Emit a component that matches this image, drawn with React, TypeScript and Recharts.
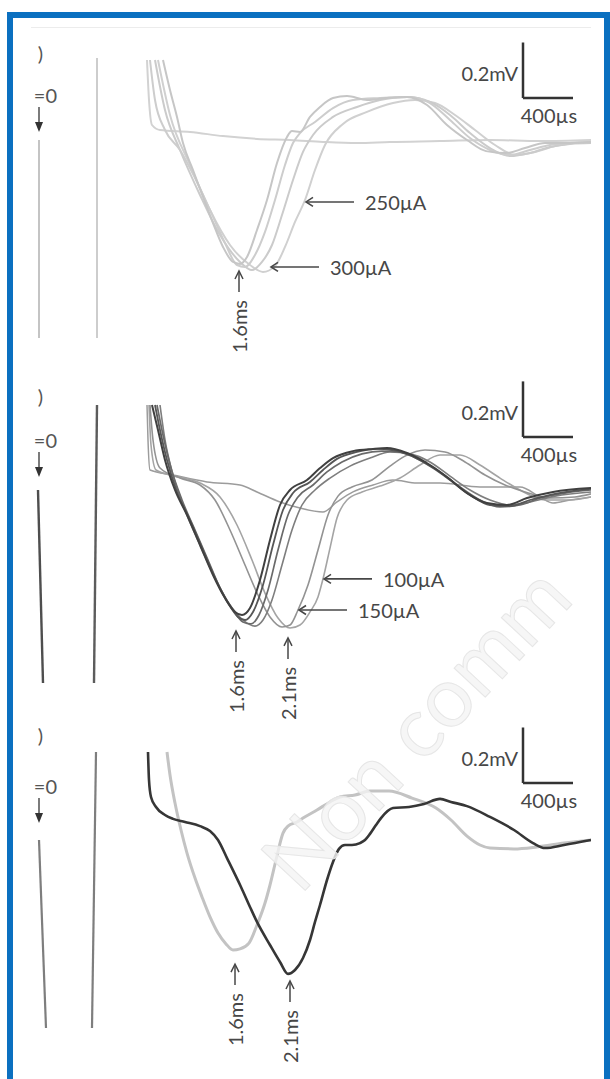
import React from 'react';
import { LineChart, Line, XAxis, YAxis, ReferenceLine, ReferenceDot } from 'recharts';

type Row = [number, number]; // [time ms, voltage mV]

// ---- panel a) : five sweeps, all light grey
const aFlat: Row[] = [
  [0.864, 0.288], [0.88, 0.144], [0.904, 0.054], [0.968, 0.036], [1.208, 0.029], [1.472, 0.014],
  [1.744, 0.004], [2.008, 0], [2.272, -0.007], [2.544, -0.011], [2.808, -0.007], [3.208, -0.004],
  [3.608, 0], [4.008, -0.004], [4.416, 0],
];
const aFast: Row[] = [
  [0.992, 0.288], [1.048, 0.18], [1.104, 0.083], [1.152, -0.011], [1.232, -0.108], [1.312, -0.205],
  [1.392, -0.299], [1.472, -0.385], [1.552, -0.439], [1.608, -0.446], [1.664, -0.421], [1.744, -0.324],
  [1.824, -0.216], [1.904, -0.083], [1.984, 0.011], [2.024, 0.032], [2.088, 0.029], [2.168, 0.083],
  [2.248, 0.119], [2.352, 0.151], [2.464, 0.158], [2.624, 0.144], [2.784, 0.151], [2.944, 0.155],
  [3.104, 0.126], [3.264, 0.054], [3.424, 0], [3.576, -0.04], [3.736, -0.047], [3.888, -0.029],
  [4.048, -0.011], [4.2, -0.011], [4.416, -0.007],
];
const aMid1: Row[] = [
  [0.888, 0.288], [0.928, 0.144], [1.008, 0.036], [1.128, -0.036], [1.248, -0.137], [1.368, -0.252],
  [1.488, -0.371], [1.584, -0.45], [1.648, -0.457], [1.728, -0.414], [1.808, -0.331], [1.888, -0.216],
  [1.968, -0.09], [2.032, -0.011], [2.088, 0.025], [2.208, 0.065], [2.352, 0.115], [2.512, 0.144],
  [2.728, 0.151], [2.968, 0.155], [3.128, 0.133], [3.288, 0.072], [3.448, 0.007], [3.608, -0.036],
  [3.768, -0.054], [3.928, -0.036], [4.088, -0.018], [4.248, -0.011], [4.416, -0.007],
];
const aMid2: Row[] = [
  [0.928, 0.288], [1.008, 0.108], [1.128, -0.036], [1.288, -0.198], [1.448, -0.342], [1.608, -0.439],
  [1.704, -0.468], [1.784, -0.439], [1.864, -0.378], [1.944, -0.27], [2.032, -0.144], [2.112, -0.043],
  [2.192, 0.018], [2.352, 0.083], [2.544, 0.119], [2.728, 0.144], [2.944, 0.155], [3.128, 0.137],
  [3.288, 0.09], [3.448, 0.025], [3.608, -0.029], [3.768, -0.058], [3.928, -0.047], [4.088, -0.025],
  [4.248, -0.014], [4.416, -0.011],
];
const aSlow: Row[] = [
  [0.952, 0.288], [1.048, 0.09], [1.208, -0.09], [1.368, -0.252], [1.528, -0.378], [1.688, -0.45],
  [1.792, -0.475], [1.888, -0.454], [1.968, -0.385], [2.048, -0.295], [2.128, -0.216], [2.208, -0.108],
  [2.288, -0.018], [2.432, 0.058], [2.624, 0.101], [2.832, 0.133], [3.008, 0.144], [3.168, 0.133],
  [3.328, 0.09], [3.488, 0.036], [3.648, -0.018], [3.808, -0.054], [3.968, -0.043], [4.128, -0.022],
  [4.288, -0.011], [4.416, -0.007],
];
const aStim: Row[] = [[0, 0], [0, -0.713]];
const aStim2: Row[] = [[0.464, 0.295], [0.464, -0.713]];

// ---- panel b) : 1.6 ms group, slower 2.1 ms group and one sub-threshold sweep
const b1: Row[] = [
  [0.904, 0.288], [0.952, 0.198], [1.008, 0.09], [1.088, -0.018], [1.184, -0.108], [1.288, -0.216],
  [1.392, -0.324], [1.488, -0.407], [1.568, -0.457], [1.624, -0.468], [1.688, -0.443], [1.768, -0.342],
  [1.848, -0.198], [1.928, -0.072], [2.008, -0.018], [2.144, 0.018], [2.248, 0.061], [2.352, 0.097],
  [2.512, 0.122], [2.672, 0.13], [2.784, 0.133], [2.944, 0.115], [3.128, 0.072], [3.264, 0.029],
  [3.424, -0.029], [3.584, -0.065], [3.744, -0.072], [3.904, -0.047], [4.112, -0.025], [4.416, -0.011],
];
const b2: Row[] = [
  [0.928, 0.288], [0.968, 0.198], [1.024, 0.09], [1.104, -0.025], [1.208, -0.126], [1.312, -0.234],
  [1.416, -0.342], [1.512, -0.425], [1.592, -0.475], [1.648, -0.486], [1.712, -0.457], [1.792, -0.36],
  [1.872, -0.216], [1.952, -0.09], [2.032, -0.029], [2.168, 0.011], [2.272, 0.054], [2.384, 0.094],
  [2.544, 0.119], [2.704, 0.13], [2.824, 0.126], [2.984, 0.104], [3.152, 0.061], [3.288, 0.018],
  [3.448, -0.036], [3.608, -0.072], [3.768, -0.076], [3.928, -0.054], [4.128, -0.032], [4.416, -0.014],
];
const b3: Row[] = [
  [0.944, 0.288], [0.992, 0.18], [1.056, 0.061], [1.144, -0.054], [1.248, -0.162], [1.352, -0.27],
  [1.456, -0.378], [1.552, -0.45], [1.632, -0.493], [1.696, -0.5], [1.76, -0.468], [1.832, -0.378],
  [1.912, -0.234], [1.992, -0.108], [2.072, -0.043], [2.192, 0], [2.304, 0.047], [2.424, 0.083],
  [2.584, 0.112], [2.744, 0.122], [2.888, 0.119], [3.048, 0.09], [3.208, 0.047], [3.368, -0.007],
  [3.528, -0.054], [3.688, -0.079], [3.848, -0.072], [4.008, -0.047], [4.208, -0.029], [4.416, -0.018],
];
const b4: Row[] = [
  [0.968, 0.288], [1.008, 0.162], [1.072, 0.036], [1.168, -0.09], [1.288, -0.216], [1.408, -0.335],
  [1.528, -0.432], [1.632, -0.486], [1.728, -0.508], [1.792, -0.486], [1.864, -0.414], [1.944, -0.288],
  [2.024, -0.162], [2.104, -0.072], [2.208, -0.018], [2.328, 0.025], [2.488, 0.068], [2.648, 0.097],
  [2.808, 0.119], [2.968, 0.112], [3.128, 0.083], [3.288, 0.032], [3.448, -0.018], [3.608, -0.054],
  [3.768, -0.072], [3.928, -0.061], [4.128, -0.04], [4.416, -0.025],
];
const b150: Row[] = [
  [0.888, 0.288], [0.912, 0.162], [0.968, 0.061], [1.128, 0.025], [1.288, 0], [1.408, -0.054],
  [1.528, -0.162], [1.648, -0.288], [1.752, -0.396], [1.848, -0.475], [1.944, -0.511], [2.008, -0.504],
  [2.072, -0.45], [2.152, -0.36], [2.232, -0.234], [2.312, -0.108], [2.392, -0.04], [2.504, -0.007],
  [2.664, 0.018], [2.808, 0.068], [2.928, 0.104], [3.088, 0.126], [3.248, 0.119], [3.408, 0.083],
  [3.568, 0.036], [3.728, 0], [3.888, -0.025], [4.088, -0.047], [4.288, -0.043], [4.416, -0.032],
];
const b100: Row[] = [
  [0.88, 0.288], [0.896, 0.144], [0.936, 0.054], [1.088, 0.032], [1.288, 0.007], [1.448, -0.043],
  [1.584, -0.144], [1.704, -0.27], [1.808, -0.389], [1.912, -0.479], [2.008, -0.515], [2.088, -0.504],
  [2.168, -0.457], [2.232, -0.403], [2.272, -0.338], [2.328, -0.227], [2.384, -0.119], [2.464, -0.054],
  [2.584, -0.025], [2.728, -0.004], [2.888, 0.025], [3.048, 0.072], [3.208, 0.108], [3.368, 0.108],
  [3.528, 0.072], [3.688, 0.025], [3.848, -0.018], [4.048, -0.054], [4.248, -0.054], [4.416, -0.043],
];
const bFlat: Row[] = [
  [0.864, 0.288], [0.872, 0.162], [0.888, 0.054], [1.072, 0.036], [1.344, 0.011], [1.608, 0],
  [1.744, -0.025], [1.928, -0.061], [2.088, -0.083], [2.272, -0.097], [2.384, -0.061], [2.512, -0.025],
  [2.672, 0], [2.832, 0.018], [3.024, 0.007], [3.208, 0.007], [3.528, -0.007], [3.848, -0.007],
  [4.008, -0.043], [4.112, -0.065], [4.248, -0.054], [4.416, -0.043],
];
const bStim: Row[] = [[-0.008, -0.018], [0.032, -0.713]];
const bStim2: Row[] = [[0.464, 0.288], [0.44, -0.713]];

// ---- panel c) : early (light) and late (dark) response
const cEarly: Row[] = [
  [1.024, 0.317], [1.048, 0.234], [1.088, 0.133], [1.136, 0.036], [1.184, -0.047], [1.248, -0.137],
  [1.304, -0.205], [1.368, -0.277], [1.432, -0.335], [1.496, -0.374], [1.552, -0.396], [1.608, -0.392],
  [1.68, -0.371], [1.744, -0.306], [1.808, -0.227], [1.848, -0.162], [1.896, -0.072], [1.952, 0.025],
  [1.992, 0.05], [2.064, 0.065], [2.112, 0.079], [2.224, 0.108], [2.328, 0.137], [2.408, 0.155],
  [2.528, 0.162], [2.648, 0.176], [2.8, 0.176], [2.984, 0.151], [3.176, 0.115], [3.296, 0.072],
  [3.424, 0.014], [3.528, -0.018], [3.608, -0.029], [3.8, -0.032], [3.984, -0.025], [4.2, -0.011],
  [4.416, 0],
];
const cLate: Row[] = [
  [0.872, 0.317], [0.88, 0.216], [0.896, 0.155], [0.936, 0.119], [1.008, 0.09], [1.072, 0.076],
  [1.168, 0.065], [1.288, 0.05], [1.368, 0.032], [1.432, 0], [1.504, -0.065], [1.616, -0.169],
  [1.688, -0.241], [1.744, -0.295], [1.848, -0.378], [1.928, -0.439], [1.992, -0.482], [2.048, -0.468],
  [2.112, -0.425], [2.168, -0.36], [2.208, -0.295], [2.248, -0.234], [2.304, -0.144], [2.352, -0.079],
  [2.4, -0.032], [2.448, -0.018], [2.504, -0.018], [2.568, -0.011], [2.608, 0], [2.648, 0.022],
  [2.696, 0.054], [2.736, 0.079], [2.832, 0.115], [2.96, 0.119], [3.08, 0.13], [3.208, 0.148],
  [3.296, 0.137], [3.424, 0.122], [3.608, 0.083], [3.8, 0.036], [3.952, -0.011], [4.048, -0.029],
  [4.2, -0.018], [4.416, 0],
];
const cStim: Row[] = [[0, 0], [0.056, -0.677]];
const cStim2: Row[] = [[0.456, 0.317], [0.424, -0.677]];

// ---- annotations (data coordinates); the figure is cropped on the left,
// so only the visible part of the panel tags and of "t=0" is written
const panelTags = [')', ')', ')'];
const stimText = '=0';
const tagAt: Row[] = [[0.032, 0.313], [0.032, 0.32], [0.032, 0.378]];
const stimLabelAt: Row[] = [[0, 0.162], [0, 0.162], [0, 0.194]];
const scaleAt: Row[] = [[3.872, 0.151], [3.872, 0.173], [3.872, 0.205]];
const scaleV = 0.2; // mV
const scaleT = 0.4; // ms
const currentLabels = [
  [{ t: 2.128, v: -0.223, text: '250µA' }, { t: 1.848, v: -0.457, text: '300µA' }],
  [{ t: 2.272, v: -0.338, text: '100µA' }, { t: 2.072, v: -0.45, text: '150µA' }],
  [],
];
const latencyLabels = [
  [{ t: 1.6, v: -0.468, text: '1.6ms' }],
  [{ t: 1.576, v: -0.522, text: '1.6ms' }, { t: 1.992, v: -0.547, text: '2.1ms' }],
  [{ t: 1.568, v: -0.443, text: '1.6ms' }, { t: 2.008, v: -0.504, text: '2.1ms' }],
];

const T_DOMAIN: [number, number] = [-0.064, 4.416];
const V_DOMAIN: [number, number] = [-0.864, 0.432];
const FONT = 'Lato, "Open Sans", sans-serif';
const INK = '#474747';

type Series = { rows: Row[]; color: string; width: number; linear?: boolean };

const panels: Series[][] = [
  [
    { rows: aStim, color: '#c4c4c4', width: 2, linear: true },
    { rows: aStim2, color: '#cdcdcd', width: 2, linear: true },
    { rows: aFlat, color: '#d2d2d2', width: 2 },
    { rows: aSlow, color: '#d0d0d0', width: 2 },
    { rows: aMid2, color: '#cbcbcb', width: 2 },
    { rows: aMid1, color: '#cdcdcd', width: 2 },
    { rows: aFast, color: '#c6c6c6', width: 2 },
  ],
  [
    { rows: bStim, color: '#4e4e4e', width: 2.4, linear: true },
    { rows: bStim2, color: '#5c5c5c', width: 2.4, linear: true },
    { rows: bFlat, color: '#9c9c9c', width: 1.5 },
    { rows: b100, color: '#a4a4a4', width: 1.6 },
    { rows: b150, color: '#939393', width: 1.6 },
    { rows: b4, color: '#7e7e7e', width: 1.6 },
    { rows: b3, color: '#6a6a6a', width: 1.7 },
    { rows: b2, color: '#565656', width: 1.8 },
    { rows: b1, color: '#404040', width: 2 },
  ],
  [
    { rows: cStim, color: '#7e7e7e', width: 2.2, linear: true },
    { rows: cStim2, color: '#7e7e7e', width: 2.2, linear: true },
    { rows: cEarly, color: '#c3c3c3', width: 3 },
    { rows: cLate, color: '#363636', width: 2.6 },
  ],
];
const panelTops = [-7, 338, 693];

const toPts = (rows: Row[]) => rows.map(([t, v]) => ({ t, v }));

const txt = { fontFamily: FONT, fontSize: 20, fill: INK };

const Panel = ({ idx }: { idx: number }) => {
  const [sx, sy] = scaleAt[idx];
  return (
    <div style={{ position: 'absolute', left: 0, top: panelTops[idx] }}>
      <LineChart width={560} height={360} margin={{ top: 0, right: 0, bottom: 0, left: 0 }}>
        <XAxis type="number" dataKey="t" domain={T_DOMAIN} hide allowDataOverflow />
        <YAxis type="number" domain={V_DOMAIN} hide allowDataOverflow />
        {panels[idx].map((s, i) => (
          <Line
            key={i}
            data={toPts(s.rows)}
            dataKey="v"
            type={s.linear ? 'linear' : 'monotone'}
            stroke={s.color}
            strokeWidth={s.width}
            dot={false}
            activeDot={false}
            isAnimationActive={false}
          />
        ))}

        {/* scale bar */}
        <ReferenceLine segment={[{ x: sx, y: sy }, { x: sx, y: sy + scaleV }]} stroke="#333" strokeWidth={2.5} ifOverflow="visible" />
        <ReferenceLine segment={[{ x: sx, y: sy }, { x: sx + scaleT, y: sy }]} stroke="#333" strokeWidth={2.5} ifOverflow="visible" />
        <ReferenceDot
          x={sx}
          y={sy}
          r={1}
          ifOverflow="visible"
          shape={(p: any) => (
            <g>
              <text x={p.cx - 5} y={p.cy - 25} textAnchor="end" dominantBaseline="central" {...txt}>0.2mV</text>
              <text x={p.cx + 26} y={p.cy + 17} textAnchor="middle" dominantBaseline="central" {...txt}>400µs</text>
            </g>
          )}
        />

        {/* panel tag and t=0 marker */}
        <ReferenceDot
          x={tagAt[idx][0]}
          y={tagAt[idx][1]}
          r={1}
          ifOverflow="visible"
          shape={(p: any) => (
            <text x={p.cx} y={p.cy} textAnchor="end" dominantBaseline="central" {...txt} fill="#555">
              {panelTags[idx]}
            </text>
          )}
        />
        <ReferenceDot
          x={stimLabelAt[idx][0]}
          y={stimLabelAt[idx][1]}
          r={1}
          ifOverflow="visible"
          shape={(p: any) => (
            <g>
              <text x={p.cx + 18} y={p.cy} textAnchor="end" dominantBaseline="central" {...txt} fill="#555">{stimText}</text>
              <line x1={p.cx} y1={p.cy + 12} x2={p.cx} y2={p.cy + 30} stroke="#444" strokeWidth={1.4} />
              <polygon points={`${p.cx - 4},${p.cy + 27} ${p.cx + 4},${p.cy + 27} ${p.cx},${p.cy + 37}`} fill="#333" />
            </g>
          )}
        />

        {currentLabels[idx].map((l, i) => (
          <ReferenceDot
            key={'c' + i}
            x={l.t}
            y={l.v}
            r={1}
            ifOverflow="visible"
            shape={(p: any) => (
              <g>
                <line x1={p.cx + 1} y1={p.cy} x2={p.cx + 49} y2={p.cy} stroke={INK} strokeWidth={1.6} />
                <polyline
                  points={`${p.cx + 8},${p.cy - 4.5} ${p.cx + 1},${p.cy} ${p.cx + 8},${p.cy + 4.5}`}
                  fill="none"
                  stroke={INK}
                  strokeWidth={1.6}
                />
                <text x={p.cx + 60} y={p.cy} dominantBaseline="central" {...txt}>{l.text}</text>
              </g>
            )}
          />
        ))}

        {latencyLabels[idx].map((l, i) => (
          <ReferenceDot
            key={'l' + i}
            x={l.t}
            y={l.v}
            r={1}
            ifOverflow="visible"
            shape={(p: any) => (
              <g>
                <line x1={p.cx} y1={p.cy + 2} x2={p.cx} y2={p.cy + 22} stroke={INK} strokeWidth={1.5} />
                <polyline
                  points={`${p.cx - 4},${p.cy + 9} ${p.cx},${p.cy + 1} ${p.cx + 4},${p.cy + 9}`}
                  fill="none"
                  stroke={INK}
                  strokeWidth={1.5}
                />
                <text
                  x={p.cx}
                  y={p.cy + 30}
                  transform={`rotate(-90 ${p.cx} ${p.cy + 30})`}
                  textAnchor="end"
                  dominantBaseline="central"
                  {...txt}
                >
                  {l.text}
                </text>
              </g>
            )}
          />
        ))}
      </LineChart>
    </div>
  );
};

const App = () => (
  <div style={{ position: 'absolute', left: 0, top: 0, width: 610, height: 1079, overflow: 'hidden', background: '#fff' }}>
    {/* blue frame */}
    <div
      style={{
        position: 'absolute',
        left: 7,
        top: 12,
        width: 591,
        height: 1100,
        border: '6px solid #0b70c0',
      }}
    />
    <div style={{ position: 'absolute', left: 31, top: 27, width: 560, height: 1, background: '#ececec' }} />
    <div style={{ position: 'absolute', left: 31, top: 27, width: 560, height: 1052, overflow: 'hidden' }}>
      <Panel idx={0} />
      <Panel idx={1} />
      <Panel idx={2} />
    </div>
    {/* faint watermark */}
    <svg width={600} height={1079} style={{ position: 'absolute', left: 0, top: 0, pointerEvents: 'none' }}>
      <text
        x={300}
        y={896}
        transform="rotate(-47 300 896)"
        fontFamily={FONT}
        fontSize={84}
        fill="#f4f4f4"
        fillOpacity={0.8}
        stroke="#e6e6e6"
        strokeWidth={1}
      >
        Non comm
      </text>
    </svg>
  </div>
);

export default App;
